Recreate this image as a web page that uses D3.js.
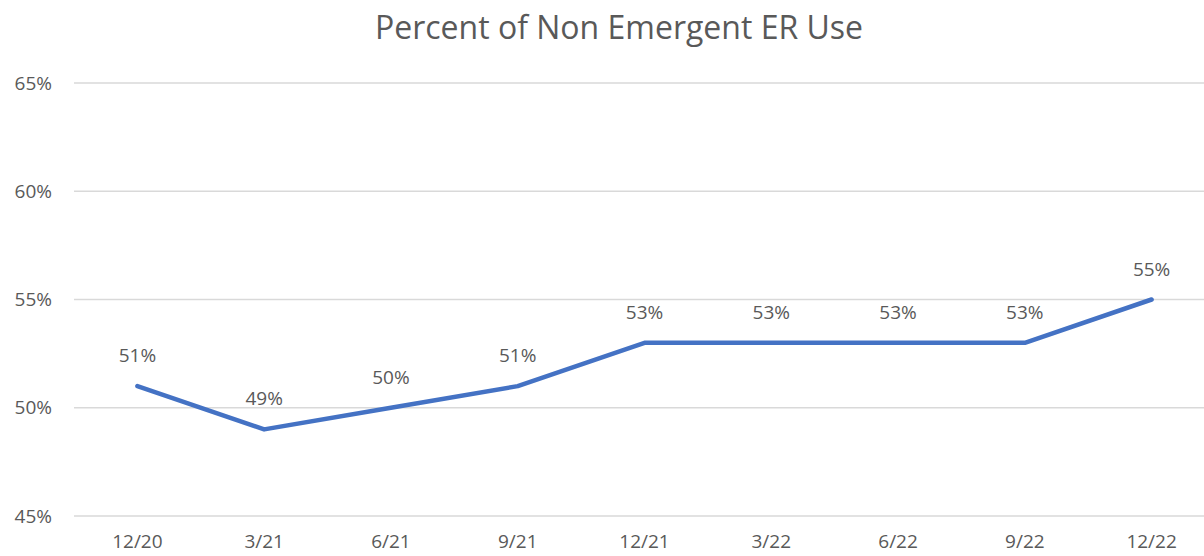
<!DOCTYPE html>
<html>
<head>
<meta charset="utf-8">
<script src="https://cdn.jsdelivr.net/npm/d3@7"></script>
<style>
  body { margin: 0; background: #fff; }
  text { font-family: "Open Sans", "Liberation Sans", sans-serif; fill: #595959; }
</style>
</head>
<body>
<div id="chart"></div>
<script>
// chart data
var categories = ["12/20", "3/21", "6/21", "9/21", "12/21", "3/22", "6/22", "9/22", "12/22"];
var values = [51, 49, 50, 51, 53, 53, 53, 53, 55];
var yTicks = [45, 50, 55, 60, 65];

var width = 1204, height = 556;

var svg = d3.select("#chart")
    .append("svg")
    .attr("width", width)
    .attr("height", height);

// scales
var x = d3.scaleBand()
    .domain(categories)
    .range([74, 1215])
    .padding(0);

var y = d3.scaleLinear()
    .domain([45, 65])
    .range([516, 83]);

// gridlines
svg.append("g")
    .selectAll("line")
    .data(yTicks)
    .enter()
    .append("line")
    .attr("x1", 74)
    .attr("x2", 1215)
    .attr("y1", function(d) { return y(d); })
    .attr("y2", function(d) { return y(d); })
    .attr("stroke", "#d9d9d9")
    .attr("stroke-width", 1.5);

// y axis labels
var yAxis = d3.axisLeft(y)
    .tickValues(yTicks)
    .tickFormat(function(d) { return d + "%"; })
    .tickSize(0)
    .tickPadding(0);

svg.append("g")
    .attr("transform", "translate(52,0)")
    .call(yAxis)
    .call(function(g) { g.select(".domain").remove(); })
    .selectAll("text")
    .style("font-size", "19px")
    .attr("fill", "#595959");

// x axis labels
var xAxis = d3.axisBottom(x)
    .tickSize(0)
    .tickPadding(0);

svg.append("g")
    .attr("transform", "translate(0,534)")
    .call(xAxis)
    .call(function(g) { g.select(".domain").remove(); })
    .selectAll("text")
    .style("font-size", "19px")
    .attr("fill", "#595959");

// title
svg.append("text")
    .attr("x", 619)
    .attr("y", 39)
    .attr("text-anchor", "middle")
    .style("font-size", "32px")
    .text("Percent of Non Emergent ER Use");

// the line
var pts = categories.map(function(c, i) { return {cat: c, val: values[i]}; });

svg.append("path")
    .datum(pts)
    .attr("fill", "none")
    .attr("stroke", "#4472c4")
    .attr("stroke-width", 4.5)
    .attr("stroke-linejoin", "round")
    .attr("stroke-linecap", "round")
    .attr("d", d3.line()
        .x(function(d) { return x(d.cat) + x.bandwidth() / 2; })
        .y(function(d) { return y(d.val); })
    );

// data labels
svg.append("g")
    .selectAll("text")
    .data(pts)
    .enter()
    .append("text")
    .attr("x", function(d) { return x(d.cat) + x.bandwidth() / 2; })
    .attr("y", function(d) { return y(d.val) - 24; })
    .attr("text-anchor", "middle")
    .style("font-size", "19px")
    .text(function(d) { return d.val + "%"; });
</script>
</body>
</html>
